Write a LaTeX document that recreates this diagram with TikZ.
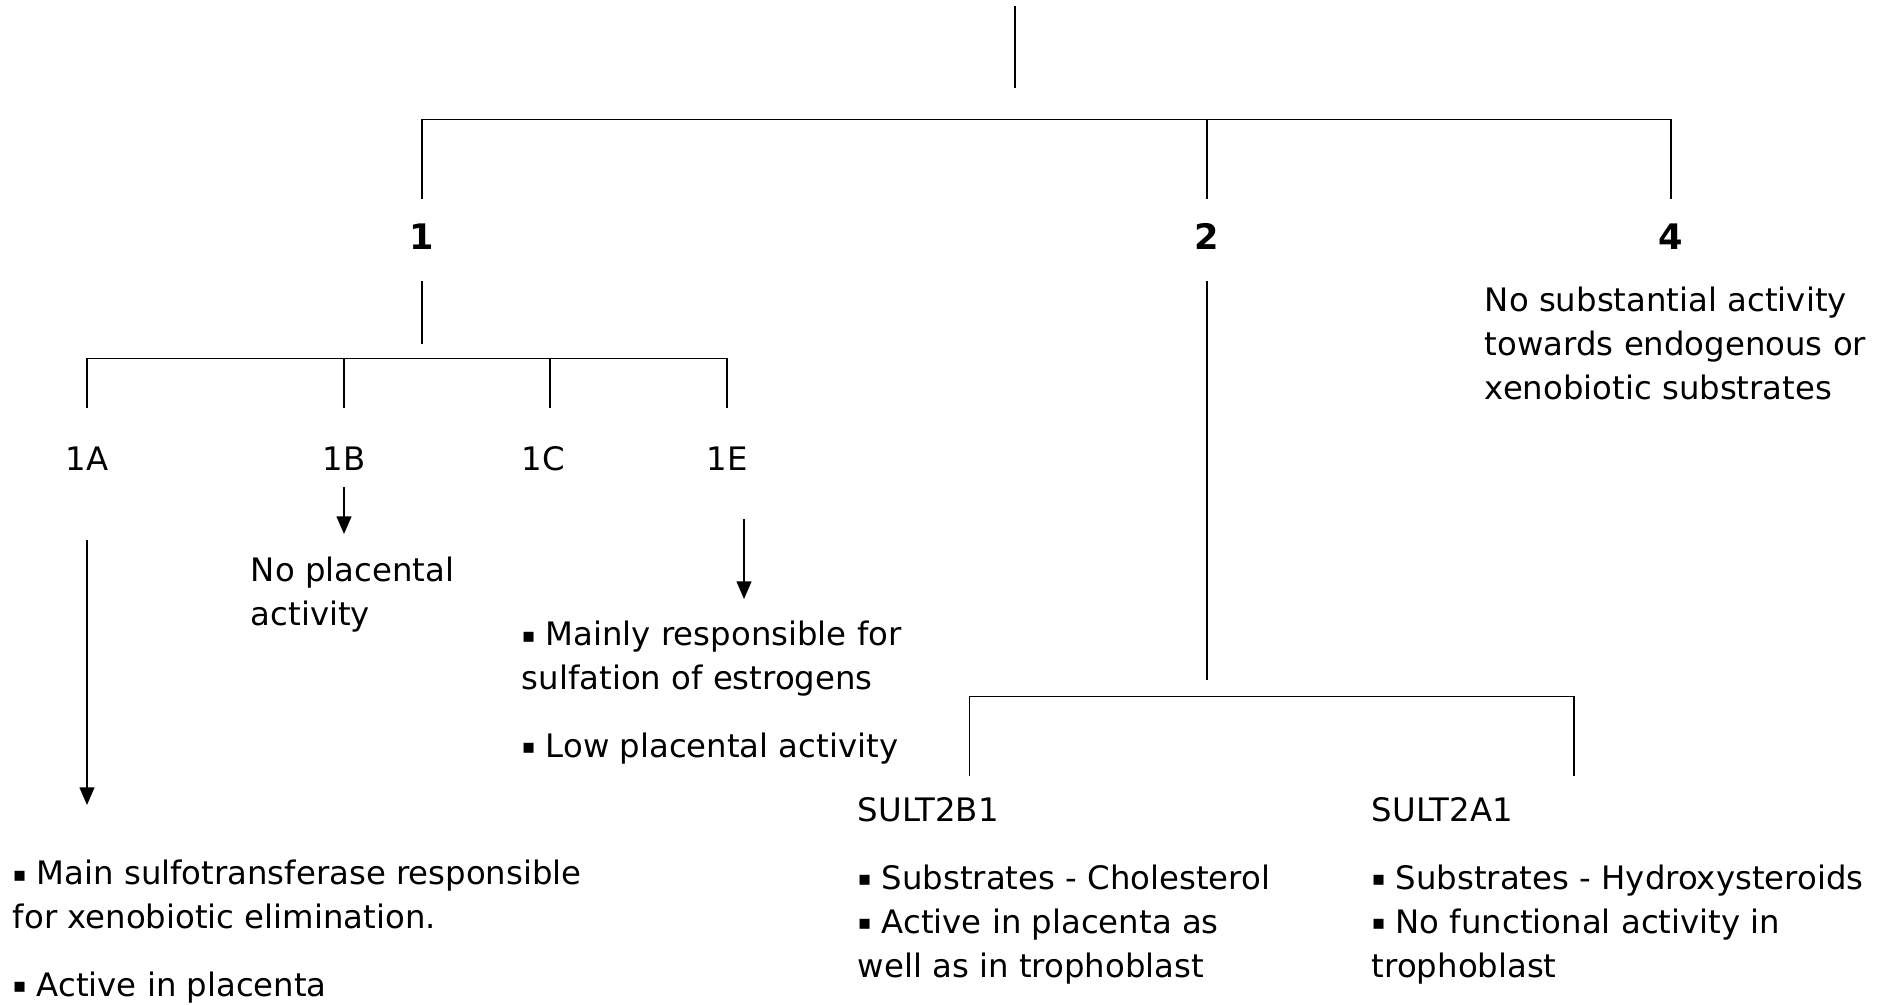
\documentclass[tikz,border=0pt]{standalone}
\usepackage{fontspec}
\setmainfont{DejaVu Sans}
\usepackage{graphicx}
\usepackage{tikz}
\usetikzlibrary{arrows.meta}

\newcommand{\blt}{\raisebox{0.1em}{\scalebox{0.62}{▪}}}

\tikzset{
  txt/.style={anchor=base west, align=left, inner sep=0pt},
  lab/.style={anchor=base, inner sep=0pt},
  num/.style={anchor=base, inner sep=0pt, font=\bfseries},
  down/.style={-{Triangle[length=5pt,width=4.2pt]}},
}

\begin{document}
\begin{tikzpicture}[x=0.1mm, y=-0.1mm, font=\fontsize{9.2}{12.5}\selectfont, line width=0.5pt]
      \useasboundingbox (0,0) rectangle (1893,1004);

      \path
      (422,250) node[num](one){1}
      (1207,250) node[num](two){2}
      (1671,250) node[num](four){4};

      \coordinate (r1) at (1015,6);
      \coordinate (r2) at (1015,88);
      \draw (r1) -- (r2);
      \coordinate (b1) at (422,199);
      \coordinate (b2) at (1207,199);
      \coordinate (b4) at (1671,199);
      \draw (b1) |- (1671,119.5) -- (b4);
      \draw (b2) -- (b2 |- 0,119.5);

      % family 1
      \coordinate (s1) at (422,281);
      \coordinate (s2) at (422,344);
      \draw (s1) -- (s2);
      \path
      (87,470) node[lab](a){1A}
      (344,470) node[lab](b){1B}
      (543,470) node[lab](c){1C}
      (727,470) node[lab](e){1E};
      \coordinate (ta) at (87,408);
      \coordinate (tb) at (344,408);
      \coordinate (tc) at (550,408);
      \coordinate (te) at (727,408);
      \draw (ta) |- (727,358.5) -- (te);
      \draw (tb) -- (tb |- 0,358.5);
      \draw (tc) -- (tc |- 0,358.5);

      \coordinate (aa) at (87,540);
      \coordinate (ab) at (87,805);
      \coordinate (ba) at (344,487);
      \coordinate (bb) at (344,534);
      \coordinate (ea) at (744,519);
      \coordinate (eb) at (744,599);
      \draw[down] (aa) -- (ab);
      \draw[down] (ba) -- (bb);
      \draw[down] (ea) -- (eb);

      \node[txt] (bt) at (250,625) {No placental\\activity};
      \node[txt] (et) at (521,757) {\blt{} Mainly responsible for\\sulfation of estrogens\\[6.8pt]\blt{} Low placental activity};
      \node[txt] (at) at (12,996) {\blt{} Main sulfotransferase responsible\\for xenobiotic elimination.\\[6.8pt]\blt{} Active in placenta};

      % family 2
      \coordinate (u1) at (1207,281);
      \coordinate (u2) at (1207,680);
      \draw (u1) -- (u2);
      \coordinate (v1) at (969.5,776);
      \coordinate (v2) at (1574,776);
      \draw (v1) |- (1574,696.5) -- (v2);

      \node[txt] (sb) at (857,821) {SULT2B1};
      \node[txt] (sa) at (1371,821) {SULT2A1};
      \node[txt] (sbt) at (857,977) {\blt{} Substrates - Cholesterol\\\blt{} Active in placenta as\\well as in trophoblast};
      \node[txt] (sat) at (1371,977) {\blt{} Substrates - Hydroxysteroids\\\blt{} No functional activity in\\trophoblast};

      % family 4
      \node[txt] (ft) at (1484,399) {No substantial activity\\towards endogenous or\\xenobiotic substrates};
    \end{tikzpicture}
\end{document}
